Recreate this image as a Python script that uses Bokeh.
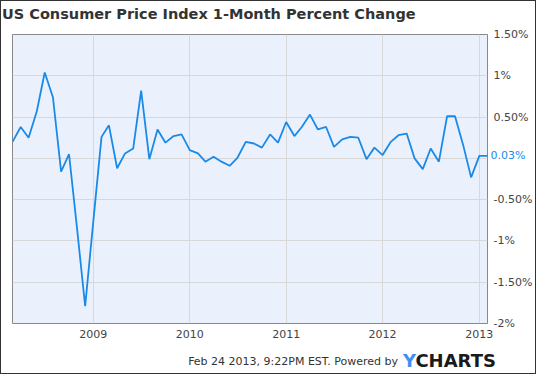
import pandas as pd
from bokeh.plotting import figure
from bokeh.layouts import column
from bokeh.models import (Range1d, FixedTicker, DatetimeTickFormatter, LinearAxis,
                          PrintfTickFormatter, Div)
from bokeh.embed import file_html
from bokeh.resources import INLINE

# ---- data ----
start_month = "2008-03-01"
cpi_change = [0.20, 0.38, 0.25, 0.57, 1.04, 0.74, -0.16, 0.05, -0.87, -1.79,
              -0.76, 0.26, 0.40, -0.12, 0.06, 0.12, 0.82, -0.01, 0.35, 0.19,
              0.27, 0.29, 0.10, 0.06, -0.04, 0.02, -0.04, -0.09, 0.01, 0.20,
              0.18, 0.13, 0.29, 0.19, 0.44, 0.27, 0.38, 0.53, 0.35, 0.38,
              0.14, 0.23, 0.26, 0.25, -0.01, 0.13, 0.04, 0.20, 0.28, 0.30,
              0.00, -0.13, 0.12, -0.04, 0.51, 0.51, 0.16, -0.23, 0.03, 0.03]
y_ticks = [-2, -1.5, -1, -0.5, 0, 0.5, 1, 1.5]
y_tick_labels = ["-2%", "-1.50%", "-1%", "-0.50%", "", "0.50%", "1%", "1.50%"]
x_tick_years = [2009, 2010, 2011, 2012, 2013]
title_text = "US Consumer Price Index 1-Month Percent Change"
footer_text = "Feb 24 2013, 9:22PM EST. Powered by"
logo_parts = ["Y", "CHARTS"]

dates = pd.date_range(start_month, periods=len(cpi_change), freq="MS")
x_ticks = [pd.Timestamp(f"{y}-01-01").value // 10**6 for y in x_tick_years]

FONT = "DejaVu Sans"
W = 534
TITLE_H, FIG_H, FOOT_H = 24, 318, 30
BLUE = "#1a8ae8"

# ---- title ----
title_div = Div(
    text=(f'<div style="font-family:\'{FONT}\';font-weight:bold;font-size:14.5px;'
          f'line-height:17px;color:#333333;margin:5px 0 0 1px;white-space:nowrap">'
          f'{title_text}</div>'),
    width=W, height=TITLE_H, margin=0)

# ---- plot ----
p = figure(width=W, height=FIG_H, x_axis_type="datetime", y_axis_location="right",
           output_backend="svg", toolbar_location=None,
           x_range=Range1d(dates[0], dates[-1]), y_range=Range1d(-2, 1.5),
           min_border_left=11, min_border_right=41, min_border_top=9,
           min_border_bottom=20, margin=0)

p.background_fill_color = "#eaf1fd"
p.border_fill_color = "white"
p.outline_line_color = "#888888"
p.outline_line_width = 1

p.line(dates, cpi_change, line_color=BLUE, line_width=1.8)

xt = FixedTicker(ticks=x_ticks)
p.xaxis.ticker = xt
p.xgrid.ticker = xt
p.xaxis.formatter = DatetimeTickFormatter(years="%Y", months="%Y", days="%Y",
                                          hours="%Y", minutes="%Y")
yt = FixedTicker(ticks=y_ticks)
main_axis = p.yaxis[0]
main_axis.ticker = yt
p.ygrid.ticker = yt
main_axis.major_label_overrides = dict(zip(y_ticks, y_tick_labels))

# callout axis showing the latest value (sits next to the frame)
last_axis = LinearAxis(ticker=FixedTicker(ticks=[cpi_change[-1]]),
                       formatter=PrintfTickFormatter(format="%.2f%%"))
p.right = [last_axis, main_axis]

for ax in (p.xaxis[0], main_axis, last_axis):
    ax.axis_line_color = None
    ax.major_tick_line_color = None
    ax.minor_tick_line_color = None
    ax.major_tick_out = 0
    ax.major_tick_in = 0
    ax.minor_tick_out = 0
    ax.minor_tick_in = 0
    ax.major_label_text_font = FONT
    ax.major_label_text_font_size = "11px"
    ax.major_label_text_color = "#444444"
last_axis.major_label_text_color = BLUE
last_axis.major_label_standoff = 3
main_axis.major_label_standoff = -35
p.xaxis.major_label_standoff = 6

# boxed callout, if this Bokeh version supports label boxes on axes
_props = LinearAxis.properties()
for _name, _val in [("major_label_background_fill_color", "white"),
                    ("major_label_border_line_color", "#999999")]:
    if _name in _props:
        setattr(last_axis, _name, _val)

for g in (p.xgrid, p.ygrid):
    g.grid_line_color = "#d8d8d8"
    g.grid_line_width = 1

# ---- footer ----
footer_div = Div(
    text=(f'<div style="position:relative;width:{W}px;height:{FOOT_H}px;'
          f'font-family:\'{FONT}\';white-space:nowrap">'
          f'<span style="position:absolute;right:137px;top:12px;font-size:11px;'
          f'line-height:13px;color:#333333">{footer_text}</span>'
          f'<span style="position:absolute;left:402px;top:7px;font-size:18px;'
          f'line-height:21px;font-weight:bold">'
          f'<span style="color:#3f8ef5">{logo_parts[0]}</span>'
          f'<span style="color:#1a1a1a">{logo_parts[1]}</span></span></div>'),
    width=W, height=FOOT_H, margin=0)

layout = column(title_div, p, footer_div, spacing=0)
layout.styles = {"border": "1px solid #333333"}

open("out.html", "w").write(file_html(layout, INLINE))
